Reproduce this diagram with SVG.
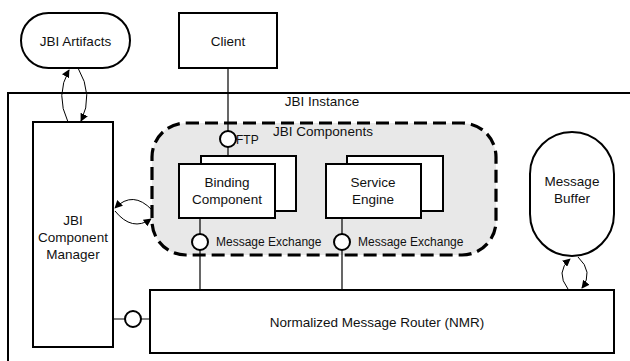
<svg xmlns="http://www.w3.org/2000/svg" width="630" height="361" viewBox="0 0 630 361">
  <style>
    text { font-family: "Liberation Sans", Arial, sans-serif; fill: #111; }
    .box { fill: #fff; stroke: #000; stroke-width: 2; }
    .port { fill: #fff; stroke: #000; stroke-width: 2; }
    .wire { fill: none; stroke: #000; stroke-width: 1.2; }
    .arc { fill: none; stroke: #000; stroke-width: 1; marker-end: url(#tip); }
    .lbl { font-size: 13.5px; text-anchor: middle; }
    .small { font-size: 12px; }
  </style>
  <defs>
    <marker id="tip" viewBox="0 0 10 10" refX="9" refY="5" markerWidth="8" markerHeight="8" markerUnits="userSpaceOnUse" orient="auto">
      <path d="M0,0 L10,5 L0,10 z" fill="#000"/>
    </marker>
  </defs>

  <rect width="630" height="361" fill="#fff"/>

  <!-- JBI Instance frame -->
  <g id="jbi-instance">
    <rect x="8" y="93" width="640" height="300" fill="#fff" stroke="#000" stroke-width="2"/>
    <text x="322" y="106" class="lbl" font-size="14">JBI Instance</text>
  </g>

  <!-- JBI Components container -->
  <g id="jbi-components">
    <rect x="152" y="123" width="344" height="132" rx="34" ry="34" fill="#e8e8e8" stroke="#000" stroke-width="3.2" stroke-dasharray="13,6"/>
    <text x="323" y="136" class="lbl" font-size="14.5">JBI Components</text>
  </g>

  <!-- connectors -->
  <g id="connectors">
    <line x1="228" y1="68" x2="228" y2="164" class="wire"/>
    <line x1="200" y1="218" x2="200" y2="290" class="wire"/>
    <line x1="342" y1="218" x2="342" y2="290" class="wire"/>
    <line x1="113" y1="319" x2="150" y2="319" class="wire"/>
    <!-- Artifacts <-> Component Manager -->
    <path d="M68,122 Q55,95 69,70" class="arc"/>
    <path d="M78,68 Q94,95 81,121" class="arc"/>
    <!-- Component Manager <-> JBI Components -->
    <path d="M152,210 Q133,190 115,208" class="arc"/>
    <path d="M115,211 Q132,232 151,219" class="arc"/>
    <!-- Message Buffer <-> NMR -->
    <path d="M568,289 Q555,272 570,259" class="arc"/>
    <path d="M578,257 Q594,272 582,288" class="arc"/>
  </g>

  <g id="jbi-artifacts">
    <rect x="21" y="13" width="109" height="55" rx="27.5" ry="27.5" class="box"/>
    <text x="75.5" y="46" class="lbl" font-size="14">JBI Artifacts</text>
  </g>

  <g id="client">
    <rect x="179" y="13" width="98" height="55" class="box"/>
    <text x="228" y="46" class="lbl" font-size="14">Client</text>
  </g>

  <g id="component-manager">
    <rect x="33" y="122" width="80" height="225" class="box"/>
    <text x="73" y="225" class="lbl">JBI</text>
    <text x="73" y="242" class="lbl">Component</text>
    <text x="73" y="259" class="lbl">Manager</text>
  </g>

  <g id="ftp-port">
    <circle cx="228" cy="139" r="8" class="port"/>
    <text x="236" y="144" class="small">FTP</text>
  </g>

  <g id="binding-component">
    <rect x="201" y="156" width="95" height="55" class="box"/>
    <rect x="179" y="164" width="96" height="54" class="box"/>
    <text x="227" y="187" class="lbl">Binding</text>
    <text x="227" y="204" class="lbl">Component</text>
  </g>

  <g id="service-engine">
    <rect x="347" y="156" width="96" height="55" class="box"/>
    <rect x="326" y="164" width="95" height="54" class="box"/>
    <text x="373" y="187" class="lbl">Service</text>
    <text x="373" y="204" class="lbl">Engine</text>
  </g>

  <g id="bc-exchange">
    <circle cx="200" cy="242" r="8" class="port"/>
    <text x="216" y="246" class="small" font-size="11.5">Message Exchange</text>
  </g>

  <g id="se-exchange">
    <circle cx="342" cy="242" r="8" class="port"/>
    <text x="358" y="246" class="small" font-size="11.5">Message Exchange</text>
  </g>

  <g id="message-buffer">
    <rect x="530" y="132" width="84" height="124" rx="42" ry="42" class="box"/>
    <text x="572" y="186" class="lbl">Message</text>
    <text x="572" y="203" class="lbl">Buffer</text>
  </g>

  <g id="nmr">
    <rect x="150" y="290" width="464" height="63" class="box"/>
    <text x="377" y="327" class="lbl" font-size="14">Normalized Message Router (NMR)</text>
  </g>

  <g id="nmr-port">
    <circle cx="133" cy="319" r="8" class="port"/>
  </g>
</svg>
